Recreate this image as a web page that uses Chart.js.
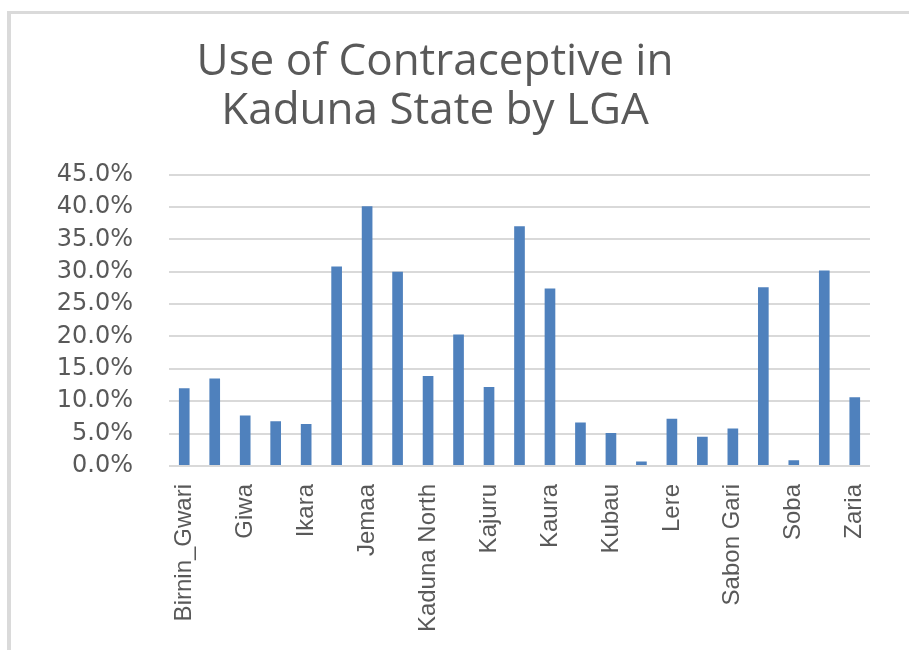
<!DOCTYPE html>
<html>
<head>
<meta charset="utf-8">
<script src="https://cdn.jsdelivr.net/npm/chart.js@4/dist/chart.umd.min.js"></script>
<style>
  html, body { margin: 0; padding: 0; background: #ffffff; }
  #wrap { position: relative; width: 909px; height: 650px; overflow: hidden; }
  #frame { position: absolute; left: 7px; top: 11px; width: 960px; height: 700px;
           border-left: 4px solid #dadada; border-top: 3px solid #dadada; box-sizing: border-box; }
  #c { position: absolute; left: 0; top: 0; }
</style>
</head>
<body>
<div id="wrap">
  <div id="frame"></div>
  <canvas id="c" width="909" height="650"></canvas>
</div>
<script>
const titleLines = ["Use of Contraceptive in", "Kaduna State by LGA"];
const categories = ["Birnin_Gwari", "Chikun", "Giwa", "Igabi", "Ikara", "Jaba", "Jemaa", "Kachia",
  "Kaduna North", "Kaduna South", "Kajuru", "Kagarko", "Kaura", "Kauru", "Kubau", "Kudan",
  "Lere", "Makarfi", "Sabon Gari", "Sanga", "Soba", "Zangon Kataf", "Zaria"];
const usePercent = [12.0, 13.5, 7.8, 6.9, 6.5, 30.8, 40.1, 30.0, 13.9, 20.3, 12.2, 37.0,
  27.4, 6.7, 5.1, 0.7, 7.3, 4.5, 5.8, 27.6, 0.9, 30.2, 10.6];
const yMax = 45;
const yStep = 5;

new Chart(document.getElementById('c'), {
  type: 'bar',
  data: {
    labels: categories,
    datasets: [{
      label: 'Use of Contraceptive',
      data: usePercent,
      backgroundColor: '#4f81bd',
      borderWidth: 0,
      categoryPercentage: 1.0,
      barPercentage: 0.35
    }]
  },
  options: {
    responsive: false,
    animation: false,
    layout: { padding: { left: 0, right: 39, top: 0, bottom: 0 } },
    plugins: {
      legend: { display: false },
      tooltip: { enabled: false },
      title: {
        display: true,
        text: titleLines,
        color: '#595959',
        font: { family: 'Open Sans', size: 44, weight: 'normal', lineHeight: 1.12 },
        padding: { top: 38, bottom: 38 }
      }
    },
    scales: {
      x: {
        grid: { display: false, drawTicks: false },
        border: { display: false },
        afterFit: (s) => { s.height = 184; },
        ticks: {
          autoSkip: false,
          maxRotation: 90,
          minRotation: 90,
          padding: 18,
          color: '#595959',
          font: { family: "'Liberation Sans Narrow', 'Liberation Sans', sans-serif", size: 24 },
          callback: function (v, i) { return i % 2 === 0 ? this.getLabelForValue(v) : ''; }
        }
      },
      y: {
        min: 0,
        max: yMax,
        grid: { color: '#d9d9d9', lineWidth: 2, drawTicks: false },
        border: { display: false },
        afterFit: (s) => { s.width = 169; },
        ticks: {
          stepSize: yStep,
          padding: 36,
          color: '#595959',
          font: { family: 'DejaVu Sans', size: 24 },
          callback: (v) => v.toFixed(1) + '%'
        }
      }
    }
  }
});
</script>
</body>
</html>
